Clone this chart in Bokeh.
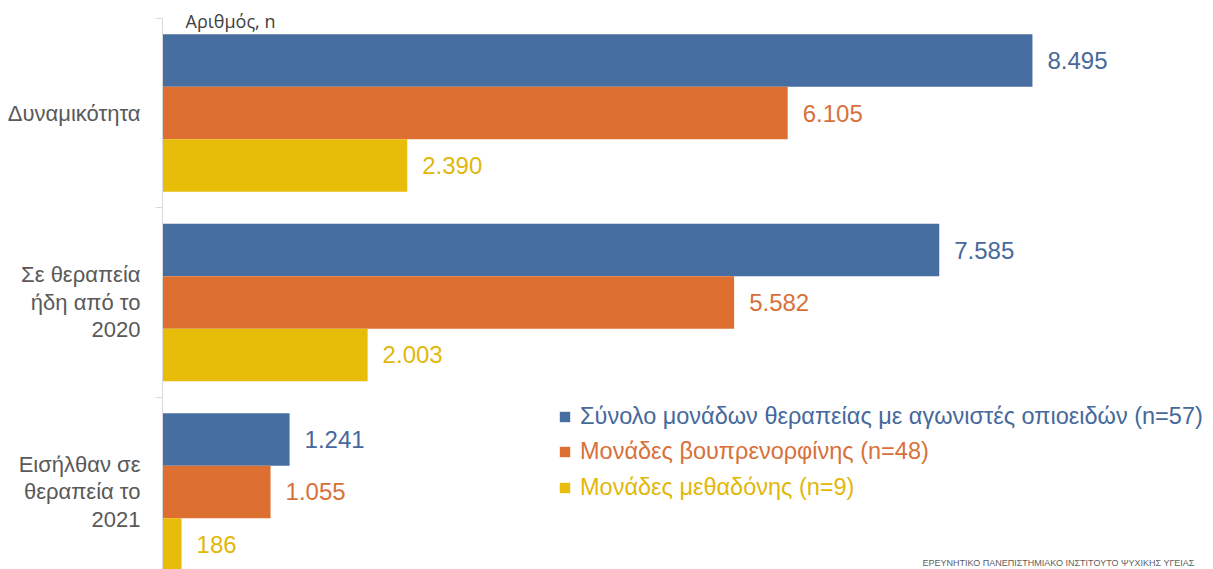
from bokeh.plotting import figure
from bokeh.models import ColumnDataSource, Range1d, FixedTicker, Legend, LegendItem, Label
from bokeh.embed import file_html
from bokeh.resources import INLINE
from bokeh.core.properties import value

# ---- data ----
categories = ["Δυναμικότητα", "Σε θεραπεία\nήδη από το\n2020", "Εισήλθαν σε\nθεραπεία το\n2021"]
series_names = [
    "Σύνολο μονάδων θεραπείας με αγωνιστές οπιοειδών (n=57)",
    "Μονάδες βουπρενορφίνης (n=48)",
    "Μονάδες μεθαδόνης (n=9)",
]
total_units = [8495, 7585, 1241]
bupre_units = [6105, 5582, 1055]
metha_units = [2390, 2003, 186]
axis_title = "Αριθμός, n"
footer_text = "ΕΡΕΥΝΗΤΙΚΟ ΠΑΝΕΠΙΣΤΗΜΙΑΚΟ ΙΝΣΤΙΤΟΥΤΟ ΨΥΧΙΚΗΣ ΥΓΕΙΑΣ"

bar_colors = ["#466ea1", "#dd7030", "#e7bd0a"]
text_colors = ["#46689b", "#d8703a", "#e2b70a"]

FONT = "Liberation Sans"

p = figure(width=1213, height=569,
           x_range=Range1d(0, 10263), y_range=Range1d(2.409, -0.5937),
           x_axis_location=None,
           output_backend="svg", toolbar_location=None,
           min_border_left=162, min_border_right=0,
           min_border_top=0, min_border_bottom=0)
p.xgrid.visible = False
p.ygrid.visible = False
p.outline_line_color = None
p.background_fill_color = "white"
p.border_fill_color = "white"

bar_h = 0.277
offsets = [-bar_h, 0.0, bar_h]
series_values = [total_units, bupre_units, metha_units]

renderers = []
for j, vals in enumerate(series_values):
    ys = [i + offsets[j] for i in range(len(categories))]
    labels = [f"{v:,}".replace(",", ".") for v in vals]
    src = ColumnDataSource(dict(y=ys, v=vals, lab=labels))
    r = p.hbar(y="y", left=0, right="v", height=bar_h, source=src,
               fill_color=bar_colors[j], line_color=None)
    renderers.append(r)
    p.text(x="v", y="y", text="lab", source=src, x_offset=15,
           text_baseline="middle", text_align="left",
           text_color=text_colors[j], text_font=value(FONT), text_font_size="24px")

# y axis (categories)
ax = p.yaxis[0]
ax.ticker = FixedTicker(ticks=list(range(len(categories))),
                        minor_ticks=[i - 0.5 for i in range(len(categories) + 1)])
ax.major_label_overrides = {i: c for i, c in enumerate(categories)}
ax.major_tick_line_color = None
ax.major_tick_out = 0
ax.major_tick_in = 0
ax.minor_tick_line_color = "#d9d9d9"
ax.minor_tick_out = 7
ax.minor_tick_in = 0
ax.axis_line_color = "#d9d9d9"
ax.bounds = (-0.5, 2.5)
ax.major_label_standoff = 15
ax.major_label_text_font = FONT
ax.major_label_text_font_size = "22px"
ax.major_label_text_color = "#595959"
ax.major_label_text_align = "center"
ax.major_label_text_line_height = 1.1

# legends (one per series so that each text takes its series colour)
leg_y = [139, 104, 68]
for j, r in enumerate(renderers):
    leg = Legend(items=[LegendItem(label=series_names[j], renderers=[r])],
                 location=(396, leg_y[j]),
                 label_text_color=text_colors[j], label_text_font=FONT,
                 label_text_font_size="23.5px", label_height=26,
                 glyph_width=13, glyph_height=13, label_standoff=9,
                 padding=0, margin=0, spacing=0,
                 border_line_color=None, background_fill_alpha=0)
    p.add_layout(leg)

p.add_layout(Label(x=225, y=-0.488, text=axis_title, text_baseline="middle",
                   text_font="Open Sans", text_font_size="18px", text_color="#404040"))
p.add_layout(Label(x=760, y=2, x_units="screen", y_units="screen", text=footer_text,
                   text_baseline="bottom", text_font=FONT, text_font_size="9px",
                   text_color="#606060"))

open("out.html", "w").write(file_html(p, INLINE))
